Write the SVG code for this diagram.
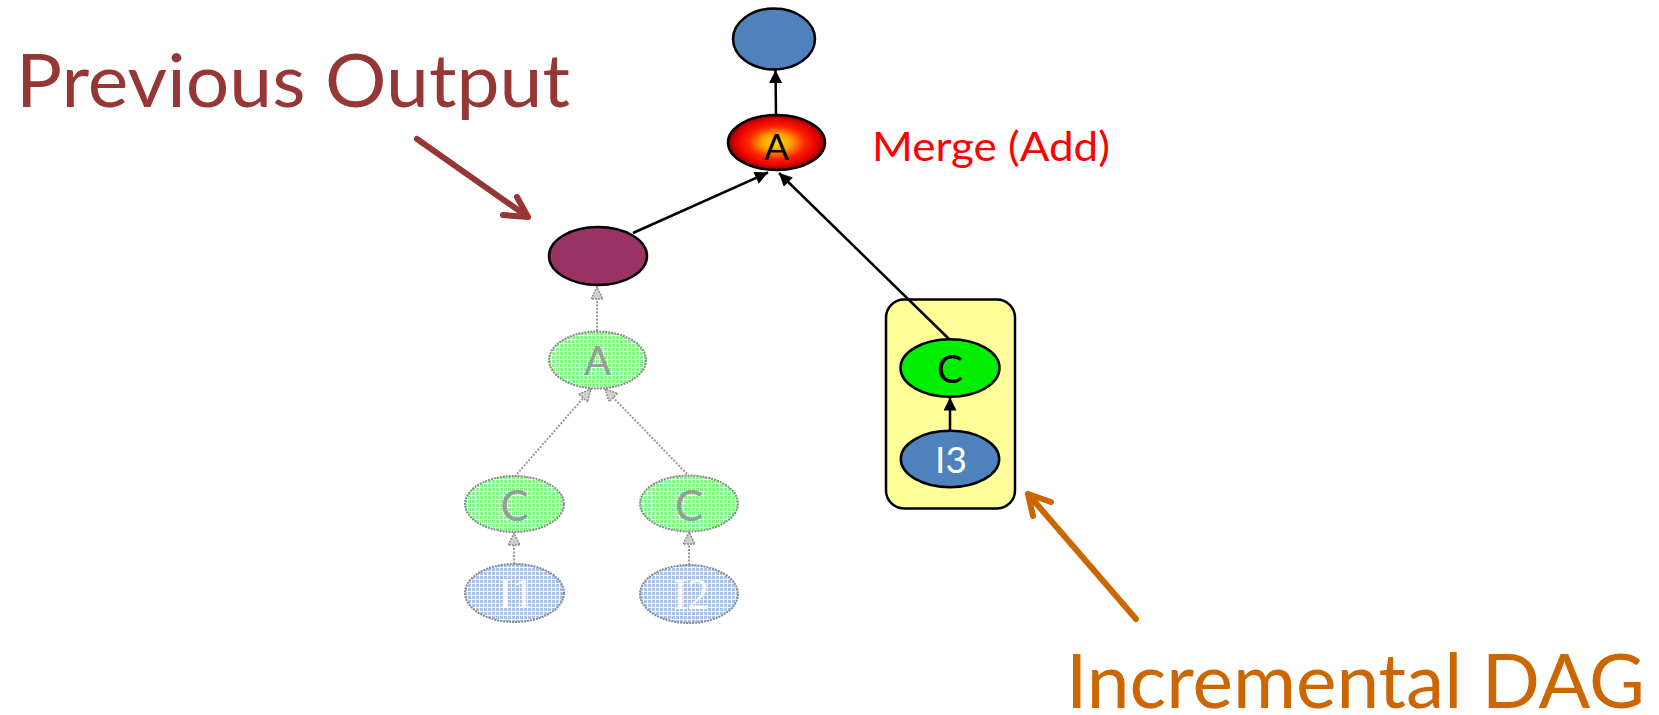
<svg xmlns="http://www.w3.org/2000/svg" width="1659" height="715" viewBox="0 0 1659 715">
  <style>
    .lbl { font-family: Lato, "Open Sans", "Liberation Sans", sans-serif; }
    .node { stroke: #000; stroke-width: 2.5; }
    .edge { stroke: #000; stroke-width: 2.5; fill: none; marker-end: url(#arrow); }
    .ghost { stroke: #8a8a8a; stroke-width: 2; stroke-dasharray: 2 1; }
    .ghost-edge { stroke: #9a9a9a; stroke-width: 2; stroke-dasharray: 2 1.5; fill: none; marker-end: url(#ghostArrow); }
    .call { fill: none; stroke-width: 6; stroke-linecap: round; stroke-linejoin: round; }
  </style>
  <defs>
    <marker id="arrow" viewBox="0 0 10 10" refX="10" refY="5" markerWidth="15" markerHeight="13" markerUnits="userSpaceOnUse" orient="auto">
      <path d="M0,0 L10,5 L0,10 z" fill="#000"/>
    </marker>
    <marker id="ghostArrow" viewBox="0 0 10 10" refX="10" refY="5" markerWidth="14" markerHeight="12" markerUnits="userSpaceOnUse" orient="auto">
      <path d="M0,0 L10,5 L0,10 z" fill="#cfcfcf" stroke="#8a8a8a" stroke-width="1.2" stroke-dasharray="1.5 1"/>
    </marker>
    <radialGradient id="hot" cx="50%" cy="50%" r="50%">
      <stop offset="0" stop-color="#ffe000"/>
      <stop offset="0.3" stop-color="#ffa000"/>
      <stop offset="0.6" stop-color="#ff2000"/>
      <stop offset="0.85" stop-color="#e00000"/>
      <stop offset="1" stop-color="#8a0000"/>
    </radialGradient>
    <pattern id="meshGreen" width="4" height="4" patternUnits="userSpaceOnUse">
      <rect width="4" height="4" fill="#8eef8e"/>
      <rect y="3" width="4" height="1" fill="#ffffff" opacity="0.85"/>
      <rect x="3" width="1" height="4" fill="#ffffff" opacity="0.85"/>
    </pattern>
    <pattern id="meshBlue" width="4" height="4" patternUnits="userSpaceOnUse">
      <rect width="4" height="4" fill="#a9c1e2"/>
      <rect y="3" width="4" height="1" fill="#ffffff" opacity="0.85"/>
      <rect x="3" width="1" height="4" fill="#ffffff" opacity="0.85"/>
    </pattern>
  </defs>

  <!-- callout labels -->
  <g id="label-previous">
    <text class="lbl" x="16" y="107" font-size="73" fill="#953735" textLength="554" lengthAdjust="spacingAndGlyphs">Previous Output</text>
    <path class="call" stroke="#953735" d="M417,139 L528,217 M503,215 L528,217 L517,197"/>
  </g>
  <g id="label-incremental">
    <text class="lbl" x="1066" y="708" font-size="75" fill="#cc6600" textLength="579" lengthAdjust="spacingAndGlyphs">Incremental DAG</text>
    <path class="call" stroke="#cc6600" d="M1136,619 L1028,494 M1051,502 L1028,494 L1033,516"/>
  </g>
  <g id="label-merge">
    <text class="lbl" x="872" y="161" font-size="40" fill="#ff0000" textLength="238" lengthAdjust="spacingAndGlyphs">Merge (Add)</text>
  </g>

  <!-- incremental DAG container -->
  <g id="container">
    <rect x="886" y="299.5" width="129" height="209" rx="18" ry="18" fill="#ffff99" stroke="#000" stroke-width="2.5"/>
  </g>

  <!-- connectors -->
  <g id="connectors">
    <line class="ghost-edge" x1="597" y1="331" x2="597" y2="287"/>
    <line class="ghost-edge" x1="517" y1="474" x2="591" y2="389"/>
    <line class="ghost-edge" x1="687" y1="474" x2="605" y2="389"/>
    <line class="ghost-edge" x1="514" y1="564" x2="514" y2="533"/>
    <line class="ghost-edge" x1="689" y1="565" x2="689" y2="532"/>
    <line class="edge" x1="776" y1="115" x2="775.5" y2="70"/>
    <line class="edge" x1="633" y1="233" x2="768" y2="172.5"/>
    <line class="edge" x1="949" y1="339" x2="779" y2="173"/>
    <line class="edge" x1="950" y1="431" x2="950" y2="397.5"/>
  </g>

  <!-- nodes -->
  <g id="node-out">
    <ellipse class="node" cx="774" cy="39" rx="41" ry="30.5" fill="#4f81bd"/>
  </g>
  <g id="node-merge">
    <ellipse class="node" cx="776.5" cy="142.5" rx="48.5" ry="27.5" fill="url(#hot)"/>
    <text class="lbl" x="776.5" y="160" font-size="37" text-anchor="middle" fill="#000">A</text>
  </g>
  <g id="node-prev">
    <ellipse class="node" cx="598" cy="256" rx="49" ry="29" fill="#993366"/>
  </g>
  <g id="node-old-a">
    <ellipse class="ghost" cx="597.5" cy="360" rx="48.5" ry="28.5" fill="url(#meshGreen)"/>
    <text class="lbl" x="597.5" y="375" font-size="40" text-anchor="middle" fill="#9a9a9a">A</text>
  </g>
  <g id="node-old-c1">
    <ellipse class="ghost" cx="514.5" cy="504" rx="49.5" ry="28" fill="url(#meshGreen)"/>
    <text class="lbl" x="514.5" y="521" font-size="42" text-anchor="middle" fill="#9a9a9a">C</text>
  </g>
  <g id="node-old-c2">
    <ellipse class="ghost" cx="689" cy="503.5" rx="49" ry="28" fill="url(#meshGreen)"/>
    <text class="lbl" x="689" y="520.5" font-size="42" text-anchor="middle" fill="#9a9a9a">C</text>
  </g>
  <g id="node-i1">
    <ellipse class="ghost" cx="514.5" cy="593" rx="49.5" ry="29" fill="url(#meshBlue)"/>
    <text x="516" y="608" font-family="'Liberation Serif', serif" font-size="44" text-anchor="middle" fill="#ffffff">I1</text>
  </g>
  <g id="node-i2">
    <ellipse class="ghost" cx="689" cy="594" rx="49" ry="29" fill="url(#meshBlue)"/>
    <text x="691" y="609" font-family="'Liberation Serif', serif" font-size="44" text-anchor="middle" fill="#ffffff">I2</text>
  </g>
  <g id="node-c">
    <ellipse class="node" cx="950" cy="368" rx="49.5" ry="28.7" fill="#00ee00"/>
    <text class="lbl" x="950" y="383" font-size="39" text-anchor="middle" fill="#000">C</text>
  </g>
  <g id="node-i3">
    <ellipse class="node" cx="950" cy="459" rx="49.2" ry="28.2" fill="#4f81bd"/>
    <text class="lbl" x="951" y="473" font-size="37" text-anchor="middle" fill="#ffffff">I3</text>
  </g>
</svg>
